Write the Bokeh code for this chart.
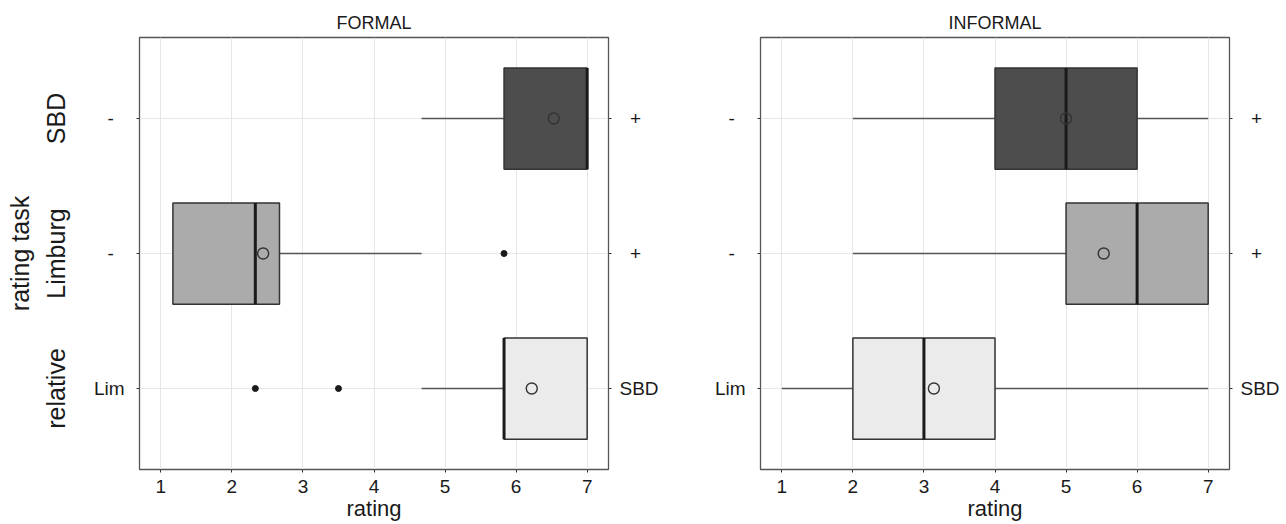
import math
from bokeh.plotting import figure
from bokeh.models import Range1d, FixedTicker, LinearAxis, ColumnDataSource
from bokeh.layouts import row
from bokeh.embed import file_html
from bokeh.resources import INLINE

# ---------------- data ----------------
rows = ["relative", "Limburg", "SBD"]          # y positions 1, 2, 3
row_pos = [1, 2, 3]
left_tick_labels = ["Lim", "-", "-"]
right_tick_labels = ["SBD", "+", "+"]
fills = ["#ebebeb", "#ababab", "#4d4d4d"]
x_ticks = [1, 2, 3, 4, 5, 6, 7]

# FORMAL
formal_q1 = [5.83, 1.17, 5.83]
formal_med = [5.83, 2.33, 7.0]
formal_q3 = [7.0, 2.67, 7.0]
formal_wlo = [4.67, 1.17, 4.67]
formal_whi = [7.0, 4.67, 7.0]
formal_mean = [6.22, 2.44, 6.53]
formal_out_x = [2.33, 3.5, 5.83]
formal_out_y = [1, 1, 2]

# INFORMAL
informal_q1 = [2.0, 5.0, 4.0]
informal_med = [3.0, 6.0, 5.0]
informal_q3 = [4.0, 7.0, 6.0]
informal_wlo = [1.0, 2.0, 2.0]
informal_whi = [7.0, 7.0, 7.0]
informal_mean = [3.14, 5.53, 5.0]
informal_out_x = []
informal_out_y = []

FONT = "Liberation Sans"
TXT = "#1a1a1a"
NB = "\u00a0"


def style_axis(ax, size="19px", standoff=8, ticks=True):
    ax.axis_line_color = None
    ax.major_tick_out = 3 if ticks else 0
    ax.major_tick_in = 0
    ax.major_tick_line_color = "#333333" if ticks else None
    ax.minor_tick_line_color = None
    ax.major_label_standoff = standoff
    ax.major_label_text_font = FONT
    ax.major_label_text_font_size = size
    ax.major_label_text_color = TXT


def make_panel(title, q1, med, q3, wlo, whi, mean, out_x, out_y,
               border_left, border_right, outer=False):
    p = figure(frame_width=469, frame_height=432,
               x_range=Range1d(0.7, 7.3), y_range=Range1d(0.4, 3.6),
               min_border_left=border_left, min_border_right=border_right,
               min_border_top=37, min_border_bottom=55,
               output_backend="svg", toolbar_location=None, title=title)
    p.title.text_font = FONT
    p.title.text_font_size = "18px"
    p.title.text_font_style = "normal"
    p.title.text_color = TXT
    p.title.align = "center"
    p.title.standoff = 10

    p.outline_line_color = "#555555"
    p.outline_line_width = 1.3
    p.background_fill_color = "white"
    p.border_fill_color = "white"

    # grid
    p.xgrid.ticker = FixedTicker(ticks=x_ticks)
    p.ygrid.ticker = FixedTicker(ticks=row_pos)
    p.xgrid.grid_line_color = "#e6e6e6"
    p.ygrid.grid_line_color = "#e6e6e6"

    # x axis
    xa = p.xaxis[0]
    xa.ticker = FixedTicker(ticks=x_ticks)
    style_axis(xa, standoff=7)
    xa.axis_label = "rating"
    xa.axis_label_text_font = FONT
    xa.axis_label_text_font_size = "22px"
    xa.axis_label_text_font_style = "normal"
    xa.axis_label_text_color = TXT
    xa.axis_label_standoff = 0

    # inner left y axis: "-", "-", "Lim"
    ya = p.yaxis[0]
    ya.ticker = FixedTicker(ticks=row_pos)
    ya.major_label_overrides = {1: left_tick_labels[0],
                                2: left_tick_labels[1] + NB + NB,
                                3: left_tick_labels[2] + NB + NB}
    style_axis(ya, standoff=12)

    # outer left axis with row (strip) labels and axis title
    if outer:
        oa = LinearAxis(ticker=FixedTicker(ticks=row_pos),
                        major_label_overrides={1: rows[0], 2: rows[1], 3: rows[2]})
        style_axis(oa, size="25px", standoff=21, ticks=False)
        oa.major_label_orientation = "parallel"
        oa.axis_label = "rating task"
        oa.axis_label_text_font = FONT
        oa.axis_label_text_font_size = "25px"
        oa.axis_label_text_font_style = "normal"
        oa.axis_label_text_color = TXT
        oa.axis_label_standoff = 5
        p.add_layout(oa, "left")

    # right axis: "+", "+", "SBD"
    ra = LinearAxis(ticker=FixedTicker(ticks=row_pos),
                    major_label_overrides={1: right_tick_labels[0],
                                           2: NB + NB + right_tick_labels[1],
                                           3: NB + NB + right_tick_labels[2]})
    style_axis(ra, standoff=8)
    p.add_layout(ra, "right")

    src = ColumnDataSource(dict(y=row_pos, q1=q1, med=med, q3=q3, wlo=wlo,
                                whi=whi, mean=mean, fill=fills,
                                ylo=[v - 0.375 for v in row_pos],
                                yhi=[v + 0.375 for v in row_pos]))
    # whiskers
    p.segment(x0="wlo", y0="y", x1="q1", y1="y", source=src,
              line_color="#555555", line_width=1.6)
    p.segment(x0="q3", y0="y", x1="whi", y1="y", source=src,
              line_color="#555555", line_width=1.6)
    # boxes
    p.hbar(y="y", left="q1", right="q3", height=0.75, source=src,
           fill_color="fill", line_color="#333333", line_width=1.5)
    # medians
    p.segment(x0="med", y0="ylo", x1="med", y1="yhi", source=src,
              line_color="#1a1a1a", line_width=3)
    # means
    p.scatter(x="mean", y="y", source=src, marker="circle", size=11,
              fill_color=None, line_color="#333333", line_width=1.4)
    # outliers
    if out_x:
        p.scatter(x=out_x, y=out_y, marker="circle", size=6,
                  fill_color="#1a1a1a", line_color="#1a1a1a")
    return p


p1 = make_panel("FORMAL", formal_q1, formal_med, formal_q3, formal_wlo, formal_whi,
                formal_mean, formal_out_x, formal_out_y,
                border_left=139, border_right=82, outer=True)
p2 = make_panel("INFORMAL", informal_q1, informal_med, informal_q3, informal_wlo,
                informal_whi, informal_mean, informal_out_x, informal_out_y,
                border_left=70, border_right=57, outer=False)

layout = row(p1, p2)
open("out.html", "w").write(file_html(layout, INLINE))
